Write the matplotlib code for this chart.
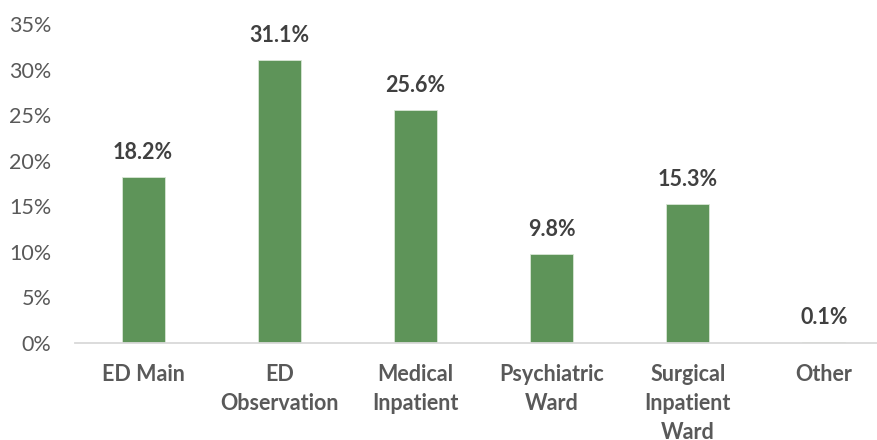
import matplotlib.pyplot as plt
from matplotlib.ticker import PercentFormatter

categorias = ["ED Main", "ED\nObservation", "Medical\nInpatient",
              "Psychiatric\nWard", "Surgical\nInpatient\nWard", "Other"]
valores = [18.2, 31.1, 25.6, 9.8, 15.3, 0.1]
ticks_y = [0, 5, 10, 15, 20, 25, 30, 35]

plt.rcParams['font.family'] = ['Lato', 'DejaVu Sans']

fig = plt.figure(figsize=(8.78, 4.4), dpi=100)
ax = fig.add_axes([0.0854, 0.2205, 0.9146, 0.725])

x = range(len(categorias))
barras = ax.bar(x, valores, width=0.315, color='#5E9459', edgecolor='#D8E6D6', linewidth=0.6)

for xi, v in zip(x, valores):
    ax.annotate(f"{v:.1f}%", (xi, v), xytext=(0, 10), textcoords='offset points',
                ha='center', va='bottom', fontsize=15.5, fontweight='bold', color='#404040')

ax.set_xlim(-0.5, 5.397)
ax.set_ylim(0, 35)
ax.set_yticks(ticks_y)
ax.yaxis.set_major_formatter(PercentFormatter(decimals=0))
ax.set_xticks(list(x))
ax.set_xticklabels(categorias, fontweight='bold', fontsize=15.5, color='#595959',
                   linespacing=1.48)

for s in ['top', 'right', 'left']:
    ax.spines[s].set_visible(False)
ax.spines['bottom'].set_color('#D9D9D9')
ax.spines['bottom'].set_linewidth(1.3)
ax.tick_params(axis='y', length=0, pad=17, labelsize=15.5, labelcolor='#595959')
ax.tick_params(axis='x', length=0, pad=15)
for lbl in ax.get_xticklabels():
    lbl.set_verticalalignment('top')
ax.set_clip_on(False)

fig.savefig("out.png", dpi=100)
